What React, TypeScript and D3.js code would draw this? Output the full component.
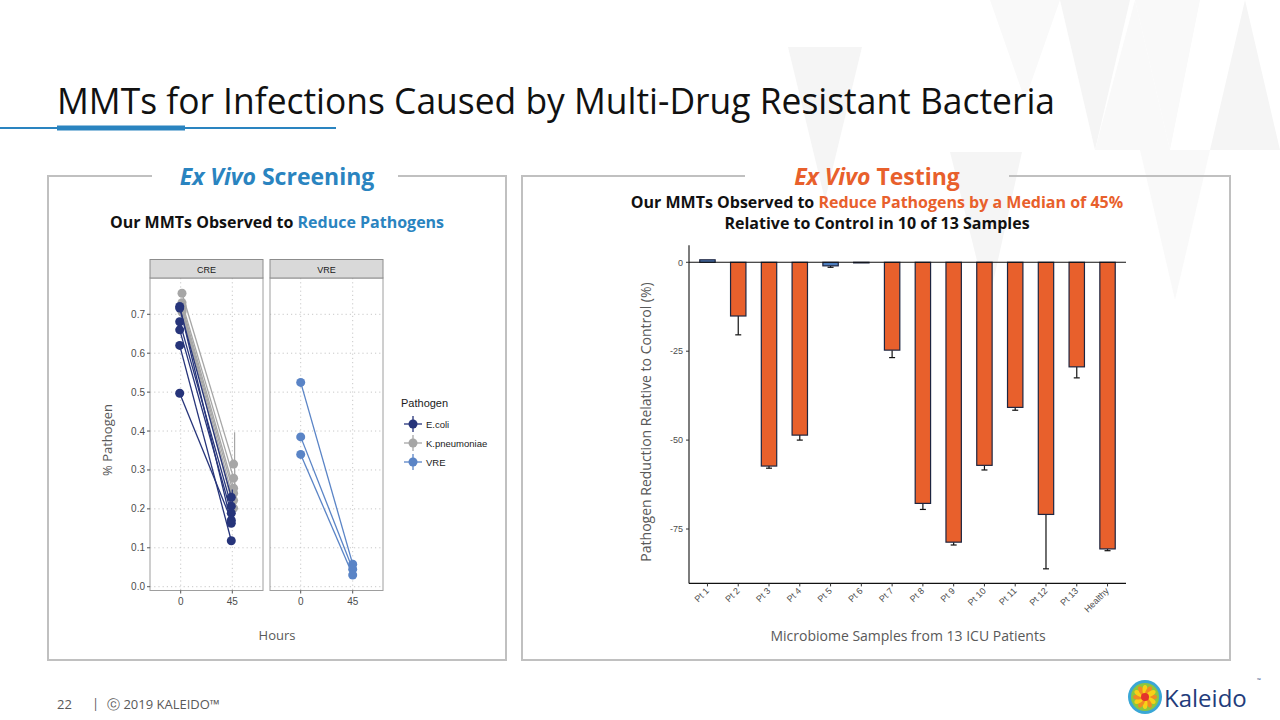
import React from "react";
import * as d3 from "d3";

// ---------- Left chart data (Ex Vivo Screening) ----------
const hours = [0, 45];
const ecoliT0 = [0.72, 0.716, 0.681, 0.66, 0.62, 0.497];
const ecoliT45 = [0.163, 0.23, 0.207, 0.189, 0.118, 0.171];
const ecoliErr45 = [0.008, 0.02, 0.01, 0.01, 0.006, 0.01];
const kpnT0 = [0.754, 0.73, 0.722, 0.714, 0.71, 0.706];
const kpnT45 = [0.315, 0.279, 0.253, 0.24, 0.222, 0.202];
const kpnErr45 = [0.082, 0.02, 0.015, 0.012, 0.01, 0.01];
const vreT0 = [0.525, 0.385, 0.34];
const vreT45 = [0.058, 0.045, 0.03];
const yTicksLeft = [0, 0.1, 0.2, 0.3, 0.4, 0.5, 0.6, 0.7];
const facets = ["CRE", "VRE"];
const pathogens = ["E.coli", "K.pneumoniae", "VRE"];

// ---------- Right chart data (Ex Vivo Testing) ----------
const samples = ["Pt 1", "Pt 2", "Pt 3", "Pt 4", "Pt 5", "Pt 6", "Pt 7", "Pt 8", "Pt 9", "Pt 10", "Pt 11", "Pt 12", "Pt 13", "Healthy"];
const reduction = [0.7, -15.1, -57.3, -48.6, -1.0, -0.1, -24.7, -67.8, -78.7, -57.1, -40.8, -70.9, -29.4, -80.6];
const reductionLow = [0.7, -20.4, -57.9, -50.0, -1.4, -0.1, -26.8, -69.5, -79.5, -58.4, -41.6, -86.2, -32.5, -81.1];
const nonReducing = ["Pt 1", "Pt 5", "Pt 6"];
const yTicksRight = [0, -25, -50, -75];

const C_ECOLI = "#26347a";
const C_KPN = "#a6a6a6";
const C_VRE = "#5a84c6";
const C_BLUE = "#2a84c0";
const C_ORANGE = "#e8602c";

function LeftChart() {
  const y = d3.scaleLinear().domain([0, 0.7]).range([586.7, 314.3]);
  const panelTop = 278;
  const panelBottom = 590.5;
  const panels = [
    { name: facets[0], x0: 150, x1: 263, x: d3.scaleLinear().domain([0, 45]).range([180.7, 232.3]) },
    { name: facets[1], x0: 270, x1: 383, x: d3.scaleLinear().domain([0, 45]).range([300.7, 352.7]) },
  ];
  const line = d3.line<[number, number]>().x((d) => d[0]).y((d) => d[1]);
  const series = [
    { panel: 0, t0: kpnT0, t45: kpnT45, err: kpnErr45, color: C_KPN, dx: 1.3 },
    { panel: 0, t0: ecoliT0, t45: ecoliT45, err: ecoliErr45, color: C_ECOLI, dx: -1 },
    { panel: 1, t0: vreT0, t45: vreT45, err: vreT0.map(() => 0), color: C_VRE, dx: 0 },
  ];
  return (
    <g>
      {panels.map((p, i) => (
        <g key={p.name}>
          <rect x={p.x0} y={panelTop} width={p.x1 - p.x0} height={panelBottom - panelTop} fill="#fff" />
          {yTicksLeft.map((t) => (
            <line key={t} x1={p.x0} x2={p.x1} y1={y(t)} y2={y(t)} stroke="#c8c8c8" strokeWidth={1} strokeDasharray="1.2,3" />
          ))}
          {hours.map((h) => (
            <line key={h} x1={p.x(h)} x2={p.x(h)} y1={panelTop} y2={panelBottom} stroke="#c8c8c8" strokeWidth={1} strokeDasharray="1.2,3" />
          ))}
          <rect x={p.x0} y={panelTop} width={p.x1 - p.x0} height={panelBottom - panelTop} fill="none" stroke="#9e9e9e" strokeWidth={1} />
          <rect x={p.x0} y={259.5} width={p.x1 - p.x0} height={panelTop - 259.5} fill="#d9d9d9" stroke="#8c8c8c" strokeWidth={1} />
          <text x={(p.x0 + p.x1) / 2} y={272.5} textAnchor="middle" fontSize={9} fontFamily="Liberation Sans, Arial" fill="#1a1a1a">{p.name}</text>
          {hours.map((h) => (
            <g key={h}>
              <line x1={p.x(h)} x2={p.x(h)} y1={panelBottom} y2={panelBottom + 3} stroke="#555" />
              <text x={p.x(h)} y={panelBottom + 14} textAnchor="middle" fontSize={10} fontFamily="Liberation Sans, Arial" fill="#4d4d4d">{h}</text>
            </g>
          ))}
          {i === 0 && yTicksLeft.map((t) => (
            <g key={t}>
              <line x1={p.x0 - 3} x2={p.x0} y1={y(t)} y2={y(t)} stroke="#555" />
              <text x={p.x0 - 5} y={y(t) + 3.5} textAnchor="end" fontSize={10} fontFamily="Liberation Sans, Arial" fill="#4d4d4d">{t.toFixed(1)}</text>
            </g>
          ))}
        </g>
      ))}
      {series.map((s, si) => {
        const xs = panels[s.panel].x;
        return (
          <g key={si}>
            {s.t0.map((v, k) => (
              <path key={k} d={line([[xs(0) + s.dx, y(v)], [xs(45) + s.dx, y(s.t45[k])]]) || ""} stroke={s.color} strokeWidth={1.3} fill="none" />
            ))}
            {s.t45.map((v, k) => s.err[k] > 0 ? (
              <line key={"e" + k} x1={xs(45) + s.dx + 1} x2={xs(45) + s.dx + 1} y1={y(v + s.err[k])} y2={y(v - s.err[k])} stroke={s.color} strokeWidth={1.2} />
            ) : null)}
            {s.t0.map((v, k) => (
              <circle key={"a" + k} cx={xs(0) + s.dx} cy={y(v)} r={4.5} fill={s.color} />
            ))}
            {s.t45.map((v, k) => (
              <circle key={"b" + k} cx={xs(45) + s.dx} cy={y(v)} r={4.5} fill={s.color} />
            ))}
          </g>
        );
      })}
      <text transform="translate(112,440) rotate(-90)" textAnchor="middle" fontSize={13} fontFamily="Open Sans, Noto Sans" fill="#595959">% Pathogen</text>
      <text x={277} y={640} textAnchor="middle" fontSize={13} fontFamily="Open Sans, Noto Sans" fill="#595959">Hours</text>
      <text x={401} y={407} fontSize={11} fontFamily="Liberation Sans, Arial" fill="#1a1a1a">Pathogen</text>
      {pathogens.map((name, i) => {
        const cy = 424 + i * 19;
        const col = [C_ECOLI, C_KPN, C_VRE][i];
        return (
          <g key={name}>
            <line x1={404} x2={422} y1={cy} y2={cy} stroke={col} strokeWidth={1.3} />
            <line x1={413} x2={413} y1={cy - 8} y2={cy + 8} stroke={col} strokeWidth={1.3} />
            <circle cx={413} cy={cy} r={4.5} fill={col} />
            <text x={426} y={cy + 3.5} fontSize={9.5} fontFamily="Liberation Sans, Arial" fill="#1a1a1a">{name}</text>
          </g>
        );
      })}
    </g>
  );
}

function RightChart() {
  const left = 689;
  const right = 1126;
  const y = d3.scaleLinear().domain([0, -75]).range([262.3, 529]);
  const top = y(4.8);
  const bottom = y(-90.3);
  const x = d3.scalePoint<string>().domain(samples).range([left, right]).padding(0.6);
  const step = x.step();
  const bw = step * 0.5;
  return (
    <g>
      {samples.map((s, i) => {
        const v = reduction[i];
        const lo = reductionLow[i];
        const cx = x(s) as number;
        const y0 = Math.min(y(0), y(v));
        const h = Math.abs(y(v) - y(0));
        return (
          <g key={s}>
            {lo !== v && (
              <g>
                <line x1={cx} x2={cx} y1={y(v)} y2={y(lo)} stroke="#111" strokeWidth={1.2} />
                <line x1={cx - 3} x2={cx + 3} y1={y(lo)} y2={y(lo)} stroke="#111" strokeWidth={1.2} />
              </g>
            )}
            <rect x={cx - bw / 2} y={y0} width={bw} height={Math.max(h, 0.6)} fill={nonReducing.includes(s) ? "#4f7fbf" : C_ORANGE} stroke="#1d2540" strokeWidth={1.2} />
          </g>
        );
      })}
      <line x1={left} x2={right} y1={y(0)} y2={y(0)} stroke="#111" strokeWidth={1.1} />
      <line x1={left} x2={left} y1={top} y2={bottom} stroke="#111" strokeWidth={1.1} />
      <line x1={left} x2={right} y1={bottom} y2={bottom} stroke="#111" strokeWidth={1.1} />
      {yTicksRight.map((t) => (
        <g key={t}>
          <line x1={left - 3} x2={left} y1={y(t)} y2={y(t)} stroke="#333" />
          <text x={left - 6} y={y(t) + 3.2} textAnchor="end" fontSize={9} fontFamily="Liberation Sans, Arial" fill="#4d4d4d">{t}</text>
        </g>
      ))}
      {samples.map((s) => {
        const cx = x(s) as number;
        return (
          <g key={s}>
            <line x1={cx} x2={cx} y1={bottom} y2={bottom + 3} stroke="#333" />
            <text transform={`translate(${cx + 2},${bottom + 8}) rotate(-45)`} textAnchor="end" fontSize={9} fontFamily="Liberation Sans, Arial" fill="#4d4d4d">{s}</text>
          </g>
        );
      })}
      <text transform="translate(651,422) rotate(-90)" textAnchor="middle" fontSize={14} fontFamily="Open Sans, Noto Sans" fill="#595959">Pathogen Reduction Relative to Control (%)</text>
      <text x={908} y={641} textAnchor="middle" fontSize={14} fontFamily="Open Sans, Noto Sans" fill="#595959">Microbiome Samples from 13 ICU Patients</text>
    </g>
  );
}

function Background() {
  const tris = [
    "M788,47 L862,47 L825,200 Z",
    "M990,0 L1060,0 L1025,100 Z",
    "M1060,0 L1130,0 L1095,150 Z",
    "M1135,0 L1200,0 L1170,150 Z",
    "M950,152 L1022,152 L988,305 Z",
    "M1095,150 L1170,150 L1135,0 Z",
    "M1210,150 L1280,150 L1245,0 Z",
    "M1140,150 L1210,150 L1175,300 Z",
  ];
  return (
    <g>
      {tris.map((d, i) => (
        <path key={i} d={d} fill={i % 2 === 0 ? "#f5f5f5" : "#f9f9f9"} />
      ))}
    </g>
  );
}

function Logo() {
  const cx = 1145;
  const cy = 697;
  const petals = d3.range(12);
  return (
    <g>
      <circle cx={cx} cy={cy} r={17} fill="#3aa7d6" />
      <circle cx={cx} cy={cy} r={14} fill="#8cc63f" />
      {petals.map((i) => {
        const a = (i / 12) * Math.PI * 2;
        return <ellipse key={i} cx={cx + Math.cos(a) * 7} cy={cy + Math.sin(a) * 7} rx={5} ry={2.5} transform={`rotate(${(a * 180) / Math.PI},${cx + Math.cos(a) * 7},${cy + Math.sin(a) * 7})`} fill={i % 2 ? "#f7d117" : "#f08a24"} />;
      })}
      <circle cx={cx} cy={cy} r={4} fill="#e4322b" />
      <text x={1164} y={707} fontSize={24} fontFamily="Open Sans, Noto Sans" fill="#233c7b">Kaleido</text>
      <text x={1257} y={682} fontSize={5} fontFamily="Open Sans, Noto Sans" fill="#233c7b">™</text>
    </g>
  );
}

export default function App() {
  return (
    <svg width={1280} height={720} style={{ position: "absolute", left: 0, top: 0, background: "#fff" }}>
      <rect width={1280} height={720} fill="#fff" />
      <Background />
      <text x={57} y={114} fontSize={36} fontFamily="Open Sans, Noto Sans" fill="#111" textLength={998} lengthAdjust="spacingAndGlyphs">MMTs for Infections Caused by Multi-Drug Resistant Bacteria</text>
      <line x1={0} x2={336} y1={128} y2={128} stroke={C_BLUE} strokeWidth={2} />
      <rect x={57} y={125.5} width={128} height={5} fill={C_BLUE} />

      <path d="M152,176 L48,176 L48,660 L506,660 L506,176 L398,176" fill="none" stroke="#c0c0c0" strokeWidth={2} />
      <text x={277} y={185} textAnchor="middle" fontSize={23} fontWeight="bold" fontFamily="Open Sans, Noto Sans" fill={C_BLUE}>
        <tspan fontStyle="italic">Ex Vivo</tspan> Screening
      </text>
      <text x={277} y={228} textAnchor="middle" fontSize={16} fontWeight="bold" fontFamily="Open Sans, Noto Sans" fill="#111">
        Our MMTs Observed to <tspan fill={C_BLUE}>Reduce Pathogens</tspan>
      </text>

      <path d="M745,176 L522,176 L522,660 L1230,660 L1230,176 L1009,176" fill="none" stroke="#c0c0c0" strokeWidth={2} />
      <text x={877} y={185} textAnchor="middle" fontSize={23} fontWeight="bold" fontFamily="Open Sans, Noto Sans" fill={C_ORANGE}>
        <tspan fontStyle="italic">Ex Vivo</tspan> Testing
      </text>
      <text x={877} y={208} textAnchor="middle" fontSize={16} fontWeight="bold" fontFamily="Open Sans, Noto Sans" fill="#111">
        Our MMTs Observed to <tspan fill={C_ORANGE}>Reduce Pathogens by a Median of 45%</tspan>
      </text>
      <text x={877} y={229} textAnchor="middle" fontSize={16} fontWeight="bold" fontFamily="Open Sans, Noto Sans" fill="#111">
        Relative to Control in 10 of 13 Samples
      </text>

      <LeftChart />
      <RightChart />

      <text x={57} y={709} fontSize={13} fontFamily="Open Sans, Noto Sans" fill="#595959">22</text>
      <text x={92} y={708} fontSize={13} fontFamily="Open Sans, Noto Sans" fill="#595959">|</text>
      <text x={107} y={709} fontSize={13} fontFamily="Open Sans, Noto Sans" fill="#595959">ⓒ 2019 KALEIDO™</text>
      <Logo />
    </svg>
  );
}
